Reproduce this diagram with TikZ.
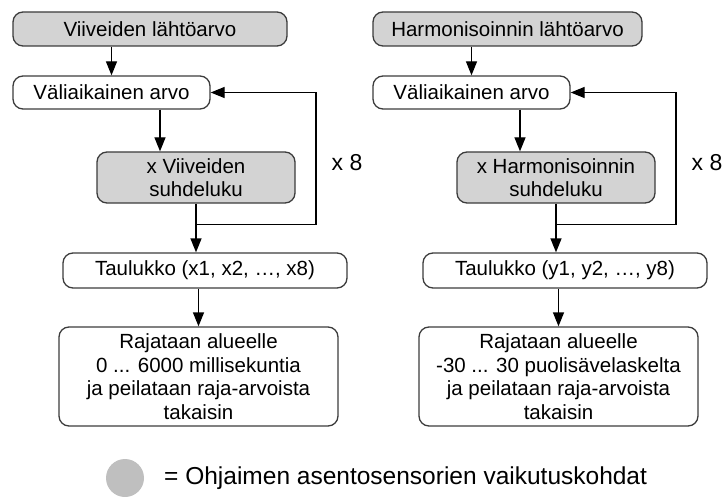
\documentclass[tikz,border=0pt]{standalone}
\usepackage{fontspec}
\setmainfont{Liberation Sans}
\usetikzlibrary{arrows.meta,calc}
\definecolor{boxfill}{HTML}{D3D3D3}
\definecolor{boxline}{HTML}{3C3C3C}
\definecolor{dotfill}{HTML}{BFBFBF}
\begin{document}
\begin{tikzpicture}[x=1pt,y=-1pt,
  box/.style={draw=boxline, line width=1.3pt, rounded corners=10pt, inner sep=0pt,
    align=center, font=\fontsize{20.5}{23.5}\selectfont},
  greybox/.style={box, fill=boxfill},
  whitebox/.style={box, fill=white},
  flow/.style={draw=black, line width=1.3pt, -{Triangle[length=14pt,width=11pt]}},
  times/.style={font=\fontsize{23}{25}\selectfont, inner sep=0pt}]
\useasboundingbox (0,0) rectangle (725,497);

% delay chain
\node[greybox, minimum width=274, minimum height=34] (l1) at (150,29) {Viiveiden lähtöarvo};
\node[whitebox, minimum width=197, minimum height=33] (l2) at (111.5,92.5) {Väliaikainen arvo};
\node[greybox, minimum width=198, minimum height=51] (l3) at (196,177.5) {x Viiveiden\\suhdeluku};
\node[whitebox, minimum width=284, minimum height=35] (l4) at (205,270.5) {Taulukko (x1, x2, …, x8)};
\node[whitebox, minimum width=279, minimum height=99] (l5) at (198.5,376.5)
  {Rajataan alueelle\\0 ... 6000 millisekuntia\\ja peilataan raja-arvoista\\takaisin};
\node[times] (lx) at (347,163) {x 8};
\coordinate (lj) at ($(l3.south)+(0,21)$);

\draw[flow] (l2.north |- l1.south) -- (l2.north);
\draw[flow] ([xshift=48.5]l2.south) -- ([xshift=48.5]l2.south |- l3.north);
\draw[flow] (l3.south) -- (l3.south |- l4.north);
\draw[flow] (lj) -- ++(120,0) |- (l2.east);
\draw[flow] (l5.north |- l4.south) -- (l5.north);

% harmonisation chain
\node[greybox, minimum width=269, minimum height=34] (r1) at (507.5,29) {Harmonisoinnin lähtöarvo};
\node[whitebox, minimum width=197, minimum height=33] (r2) at (471.5,92.5) {Väliaikainen arvo};
\node[greybox, minimum width=198, minimum height=51] (r3) at (556,177.5) {x Harmonisoinnin\\suhdeluku};
\node[whitebox, minimum width=284, minimum height=35] (r4) at (565,270.5) {Taulukko (y1, y2, …, y8)};
\node[whitebox, minimum width=279, minimum height=99] (r5) at (558.5,376.5)
  {Rajataan alueelle\\-30 ... 30 puolisävelaskelta\\ja peilataan raja-arvoista\\takaisin};
\node[times] (rx) at (707,163) {x 8};
\coordinate (rj) at ($(r3.south)+(0,21)$);

\draw[flow] (r2.north |- r1.south) -- (r2.north);
\draw[flow] ([xshift=48.5]r2.south) -- ([xshift=48.5]r2.south |- r3.north);
\draw[flow] (r3.south) -- (r3.south |- r4.north);
\draw[flow] (rj) -- ++(120,0) |- (r2.east);
\draw[flow] (r5.north |- r4.south) -- (r5.north);

% legend
\node[circle, fill=dotfill, minimum size=38, inner sep=0pt] (dot) at (125,478) {};
\node[anchor=west, inner sep=0pt, font=\fontsize{24.5}{26}\selectfont] (legend) at (164,478)
  {= Ohjaimen asentosensorien vaikutuskohdat};
\end{tikzpicture}
\end{document}
